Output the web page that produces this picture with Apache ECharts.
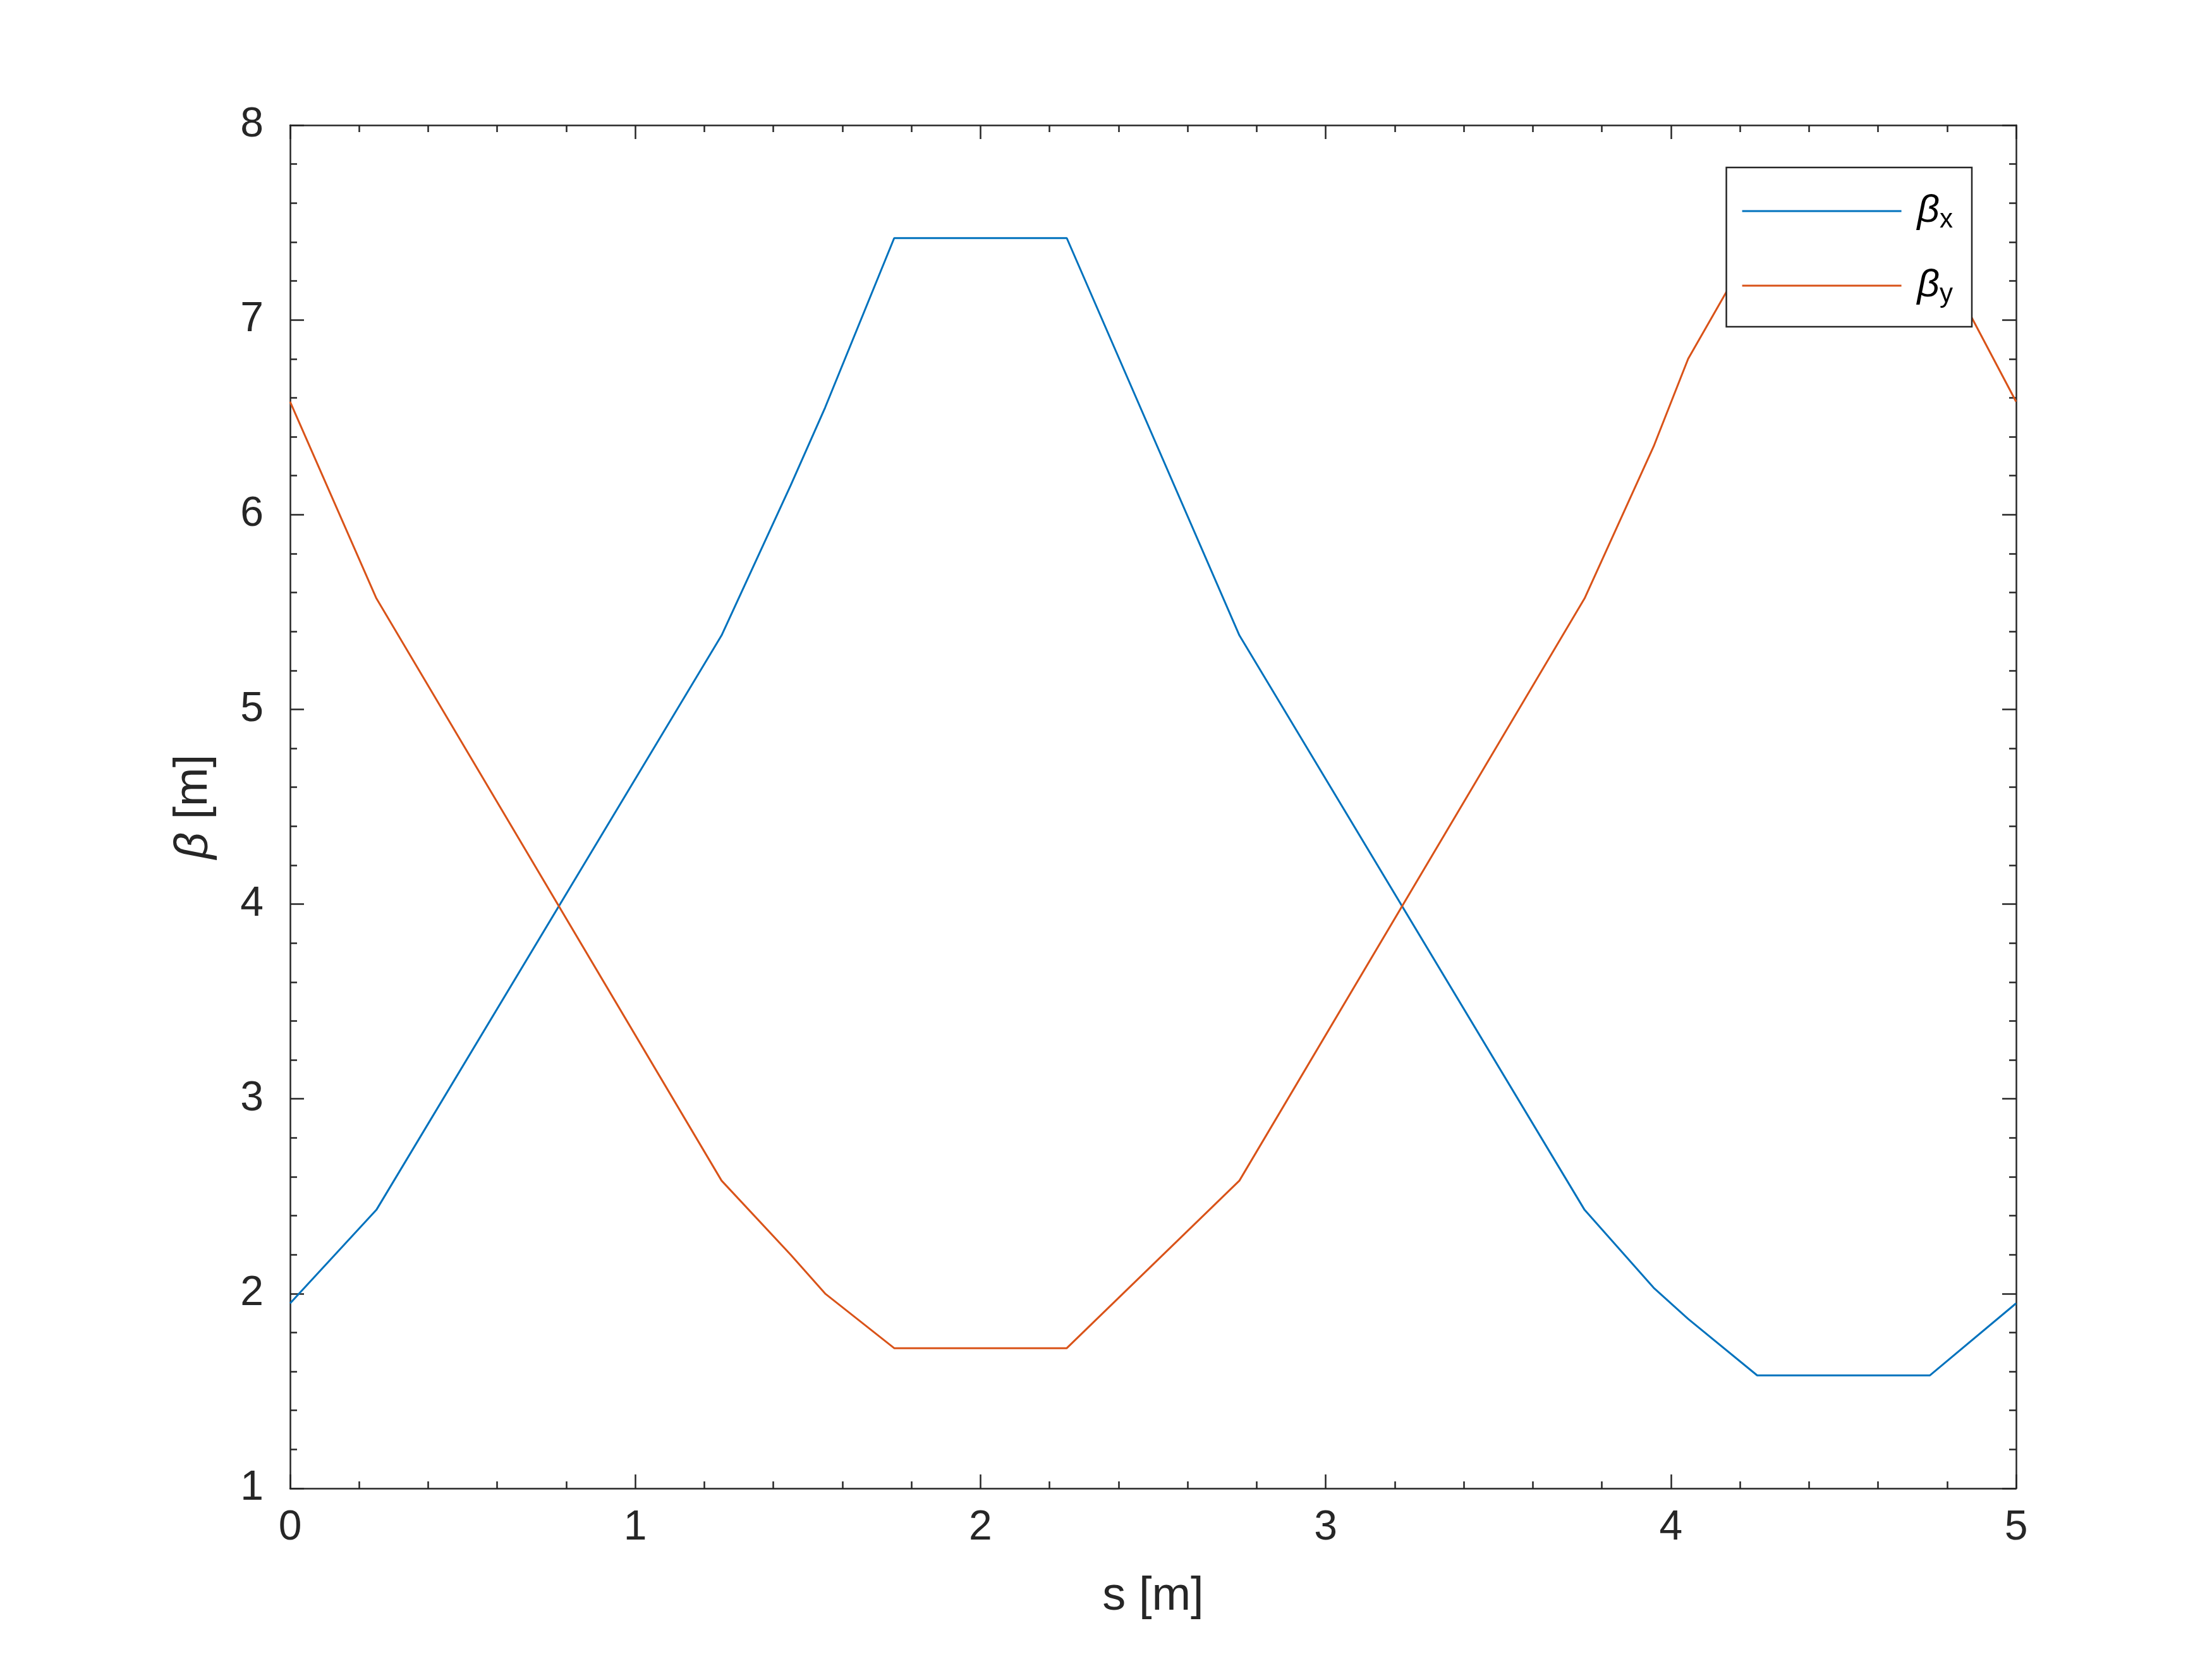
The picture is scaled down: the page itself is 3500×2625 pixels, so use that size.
<!DOCTYPE html>
<html><head><meta charset="utf-8">
<script src="https://cdn.jsdelivr.net/npm/echarts@6/dist/echarts.min.js"></script>
<style>html,body{margin:0;background:#fff}#c{width:3500px;height:2625px}</style>
</head><body><div id="c"></div>
<script>
const sX = [0,0.25,1.25,1.45,1.55,1.75,2.25,2.75,3.75,3.95,4.05,4.25,4.75,5];
const betaX = [1.95,2.43,5.38,6.15,6.55,7.42,7.42,5.38,2.43,2.03,1.87,1.58,1.58,1.95];
const sY = [0,0.25,1.25,1.45,1.55,1.75,2.25,2.75,3.75,3.95,4.05,4.25,4.75,5];
const betaY = [6.58,5.57,2.58,2.2,2.0,1.72,1.72,2.58,5.57,6.35,6.8,7.42,7.42,6.58];
const xTicks = [0,1,2,3,4,5];
const yTicks = [1,2,3,4,5,6,7,8];
const font = 'Liberation Sans';
const mt = {show:true,splitNumber:5,length:11,lineStyle:{color:'#262626',width:2.5}};
const ax = (o)=>Object.assign({
  axisLine:{show:true,onZero:false,lineStyle:{color:'#262626',width:2.5}},
  axisTick:{show:true,inside:true,length:22,lineStyle:{color:'#262626',width:2.5}},
  minorTick:mt,
  splitLine:{show:false}
},o);
const chart = echarts.init(document.getElementById('c'));
chart.setOption({
  backgroundColor:'#fff',
  animation:false,
  grid:{left:459,right:310,top:198,bottom:270},
  legend:{right:380,top:265,orient:'vertical',itemWidth:252,itemHeight:3,itemGap:52,
    padding:[38,30,30,25],borderColor:'#262626',borderWidth:2.5,backgroundColor:'#fff',
    formatter:n=>n==='bx'?'{b|β}{s|x}':'{b|β}{s|y}',
    data:[{name:'bx',icon:'rect'},{name:'by',icon:'rect'}],
    textStyle:{rich:{b:{fontFamily:font,fontStyle:'italic',fontSize:62,color:'#000',padding:[0,0,0,20]},
      s:{fontFamily:font,fontSize:42,color:'#000',verticalAlign:'bottom',padding:[28,0,0,0]}}}},
  xAxis:[ax({type:'value',min:0,max:5,interval:1,
      axisLabel:{fontFamily:font,fontSize:66,color:'#262626',margin:30},
      name:'s [m]',nameLocation:'middle',nameGap:135,nameTextStyle:{fontFamily:font,fontSize:74,color:'#262626'}}),
    ax({type:'value',position:'top',min:0,max:5,interval:1,axisLabel:{show:false}})],
  yAxis:[ax({type:'value',min:1,max:8,interval:1,
      axisLabel:{fontFamily:font,fontSize:66,color:'#262626',margin:42},
      name:'{i|β} [m]',nameLocation:'middle',nameGap:115,
      nameTextStyle:{fontFamily:font,fontSize:74,color:'#262626',rich:{i:{fontFamily:font,fontStyle:'italic',fontSize:74,color:'#262626'}}}}),
    ax({type:'value',position:'right',min:1,max:8,interval:1,axisLabel:{show:false}})],
  series:[
    {name:'bx',type:'line',data:sX.map((s,i)=>[s,betaX[i]]),showSymbol:false,lineStyle:{color:'#0072BD',width:3},itemStyle:{color:'#0072BD'}},
    {name:'by',type:'line',data:sY.map((s,i)=>[s,betaY[i]]),showSymbol:false,lineStyle:{color:'#D95319',width:3},itemStyle:{color:'#D95319'}}
  ]
});
</script></body></html>
